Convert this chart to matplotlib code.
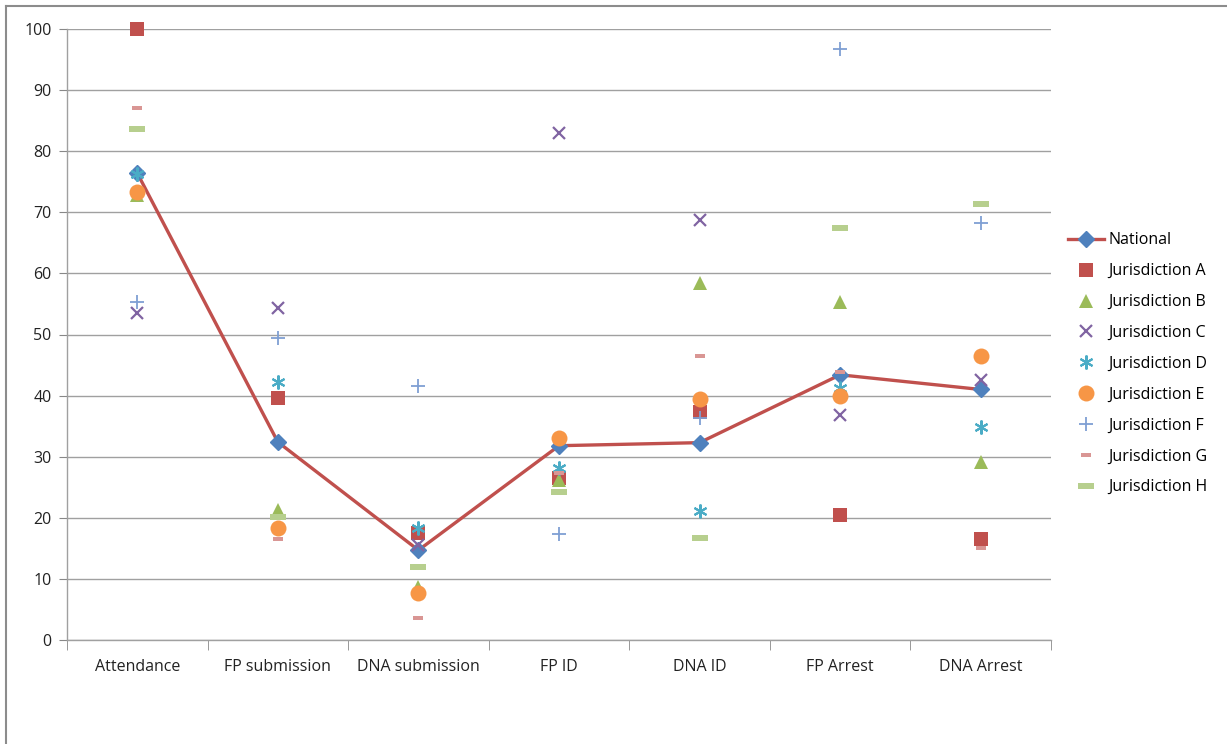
import matplotlib
matplotlib.use("Agg")
import matplotlib.pyplot as plt
from matplotlib.path import Path
from matplotlib.lines import Line2D

plt.rcParams['font.family'] = ['Open Sans', 'DejaVu Sans']

categories = ["Attendance", "FP submission", "DNA submission", "FP ID",
              "DNA ID", "FP Arrest", "DNA Arrest"]

national = [76.4, 32.4, 14.7, 31.8, 32.3, 43.4, 41.0]
jur_a = [100.0, 39.6, 17.5, 26.5, 37.3, 20.5, 16.6]
jur_b = [72.8, 21.3, 8.7, 26.2, 58.4, 55.3, 29.1]
jur_c = [53.5, 54.4, 15.5, 83.0, 68.7, 36.9, 42.5]
jur_d = [76.3, 42.2, 18.3, 28.2, 21.1, 41.2, 34.8]
jur_e = [73.3, 18.4, 7.7, 33.0, 39.4, 39.9, 46.5]
jur_f = [55.4, 49.4, 41.6, 17.3, 36.4, 96.8, 68.3]
jur_g = [87.1, 16.5, 3.6, 27.3, 46.4, 43.9, 15.1]
jur_h = [83.6, 20.1, 11.9, 24.3, 16.7, 67.5, 71.4]

labels = ["Jurisdiction A", "Jurisdiction B", "Jurisdiction C", "Jurisdiction D",
          "Jurisdiction E", "Jurisdiction F", "Jurisdiction G", "Jurisdiction H"]


def bar_marker(h):
    return Path([(-1, -h), (1, -h), (1, h), (-1, h), (-1, -h)],
                [Path.MOVETO, Path.LINETO, Path.LINETO, Path.LINETO, Path.CLOSEPOLY])


styles = [
    dict(marker='s', color='#C0504D', ms=10.5, mew=0),
    dict(marker='^', color='#9BBB59', ms=10.5, mew=0),
    dict(marker='x', color='#8064A2', ms=9, mew=1.6),
    dict(marker=(6, 2, 0), color='#4BACC6', ms=10, mew=1.5),
    dict(marker='o', color='#F79646', ms=11.5, mew=0),
    dict(marker='+', color='#7F9FD3', ms=10, mew=1.3),
    dict(marker=bar_marker(0.55), color='#D99694', ms=6.5, mew=0),
    dict(marker=bar_marker(0.32), color='#B7CF8E', ms=11.5, mew=0),
]

fig = plt.figure(figsize=(12.27, 7.44), dpi=100)
ax = fig.add_axes([67 / 1227, 1 - 640 / 744, (1051 - 67) / 1227, (640 - 29) / 744])

x = list(range(len(categories)))
ax.plot(x, national, color='#C0504D', lw=2.4, marker='D', ms=8.5,
        mfc='#4F81BD', mec='#4F81BD', label='National', zorder=3, clip_on=False)

series = [jur_a, jur_b, jur_c, jur_d, jur_e, jur_f, jur_g, jur_h]
for vals, lab, st in zip(series, labels, styles):
    ax.plot(x, vals, linestyle='none', marker=st['marker'], ms=st['ms'],
            mfc=st['color'], mec=st['color'], mew=st['mew'], label=lab,
            zorder=4, clip_on=False)

ax.set_xlim(-0.5, len(categories) - 0.5)
ax.set_ylim(0, 100)
ax.set_yticks(range(0, 101, 10))
ax.set_xticks(x)
ax.set_xticklabels(categories)
ax.set_xticks([i - 0.5 for i in range(len(categories) + 1)], minor=True)
ax.tick_params(axis='x', which='major', length=0, pad=14, labelsize=11.5, colors='#222222')
ax.tick_params(axis='x', which='minor', length=7, color='#888888', direction='out')
ax.tick_params(axis='y', length=6, color='#888888', labelsize=11.5, colors='#222222', pad=5)
ax.yaxis.grid(True, color='#A0A0A0', lw=1)
ax.set_axisbelow(True)
for s in ['top', 'right']:
    ax.spines[s].set_visible(False)
for s in ['left', 'bottom']:
    ax.spines[s].set_color('#A0A0A0')
    ax.spines[s].set_linewidth(1)

leg = ax.legend(loc='upper left', bbox_to_anchor=(1062 / 1227, 1 - 226 / 744),
                bbox_transform=fig.transFigure, frameon=False, fontsize=11.5,
                labelspacing=0.93, handlelength=2.2, handletextpad=0.3,
                borderaxespad=0, numpoints=1)

# chart area outline
fig.add_artist(Line2D([6 / 1227, 6 / 1227], [0, 1 - 6 / 744], color='#8C8C8C',
                      lw=1.5, transform=fig.transFigure))
fig.add_artist(Line2D([6 / 1227, 1], [1 - 6 / 744, 1 - 6 / 744], color='#8C8C8C',
                      lw=1.5, transform=fig.transFigure))

fig.savefig("out.png", dpi=100)
